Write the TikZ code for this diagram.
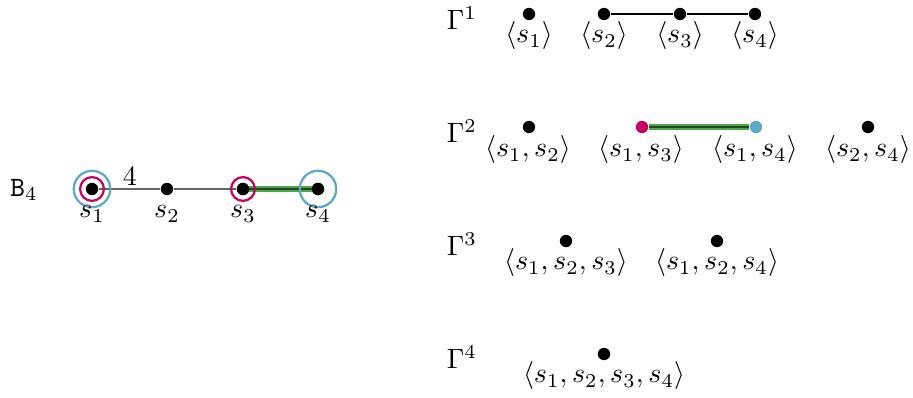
\documentclass[tikz,border=0pt]{standalone}
\usepackage{amsmath}
\definecolor{mag}{HTML}{C8005F}
\definecolor{lblue}{HTML}{5BA8C8}
\definecolor{dgreen}{HTML}{1E4A1E}
\definecolor{lgreen}{HTML}{4FA64A}
\begin{document}
\begin{tikzpicture}[x=0.357pt,y=-0.357pt,
  dot/.style={circle,fill=black,inner sep=0pt,minimum size=4.4pt},
  mdot/.style={circle,fill=mag,inner sep=0pt,minimum size=4.4pt},
  bdot/.style={circle,fill=lblue,inner sep=0pt,minimum size=4.4pt},
  lab/.style={inner sep=0pt},
  gedge/.style={line width=2.2pt,lgreen},
  gedgein/.style={line width=1pt,dgreen},
  thin edge/.style={line width=0.45pt,black!60},
  bring/.style={draw=lblue,line width=0.8pt,circle,inner sep=0pt,minimum size=13pt},
  mring/.style={draw=mag,line width=0.8pt,circle,inner sep=0pt,minimum size=8.5pt}]
\useasboundingbox (0,0) rectangle (913,398);
% left graph
\node[lab] (B) at (24,190) {$\mathtt{B}_4$};
\node[dot] (s1) at (92,189) {};
\node[dot] (s2) at (167,189) {};
\node[dot] (s3) at (243,189) {};
\node[dot] (s4) at (318,189) {};
\draw[thin edge] (s1) -- (s2) -- (s3);
\draw[gedge] (s3.center) -- (s4.center);
\draw[gedgein] (s3.center) -- (s4.center);
\node[dot] at (s3) {};
\node[dot] at (s4) {};
\node[bring] (r1) at (s1) {};
\node[mring] (m1) at (s1) {};
\node[mring] (m3) at (s3) {};
\node[bring] (r4) at (s4) {};
\node[lab] (w) at (130,176) {$4$};
\node[lab] (l1) at (92,214) {$s_1$};
\node[lab] (l2) at (167,214) {$s_2$};
\node[lab] (l3) at (243,214) {$s_3$};
\node[lab] (l4) at (318,214) {$s_4$};
% Gamma labels
\node[lab] (G1) at (462,18) {$\Gamma^1$};
\node[lab] (G2) at (462,131) {$\Gamma^2$};
\node[lab] (G3) at (462,244) {$\Gamma^3$};
\node[lab] (G4) at (462,357) {$\Gamma^4$};
% row 1
\node[dot] (a1) at (529,14) {};
\node[dot] (a2) at (604,14) {};
\node[dot] (a3) at (680,14) {};
\node[dot] (a4) at (755,14) {};
\draw[line width=0.45pt] (a2) -- (a3) -- (a4);
\node[lab] at (529,36) {$\langle s_1\rangle$};
\node[lab] at (604,36) {$\langle s_2\rangle$};
\node[lab] at (680,36) {$\langle s_3\rangle$};
\node[lab] at (755,36) {$\langle s_4\rangle$};
% row 2
\node[dot] (b1) at (529,127) {};
\node[mdot] (b2) at (642,127) {};
\node[bdot] (b3) at (756,127) {};
\node[dot] (b4) at (868,127) {};
\draw[gedge] (b2) -- (b3);
\draw[gedgein] (b2) -- (b3);
\node[lab] at (528,150) {$\langle s_1,s_2\rangle$};
\node[lab] at (641,150) {$\langle s_1,s_3\rangle$};
\node[lab] at (755,150) {$\langle s_1,s_4\rangle$};
\node[lab] at (868,150) {$\langle s_2,s_4\rangle$};
% row 3
\node[dot] (c1) at (566,241) {};
\node[dot] (c2) at (717,241) {};
\node[lab] at (566,263) {$\langle s_1,s_2,s_3\rangle$};
\node[lab] at (717,263) {$\langle s_1,s_2,s_4\rangle$};
% row 4
\node[dot] (d1) at (604,354) {};
\node[lab] at (604,376) {$\langle s_1,s_2,s_3,s_4\rangle$};
\end{tikzpicture}
\end{document}
